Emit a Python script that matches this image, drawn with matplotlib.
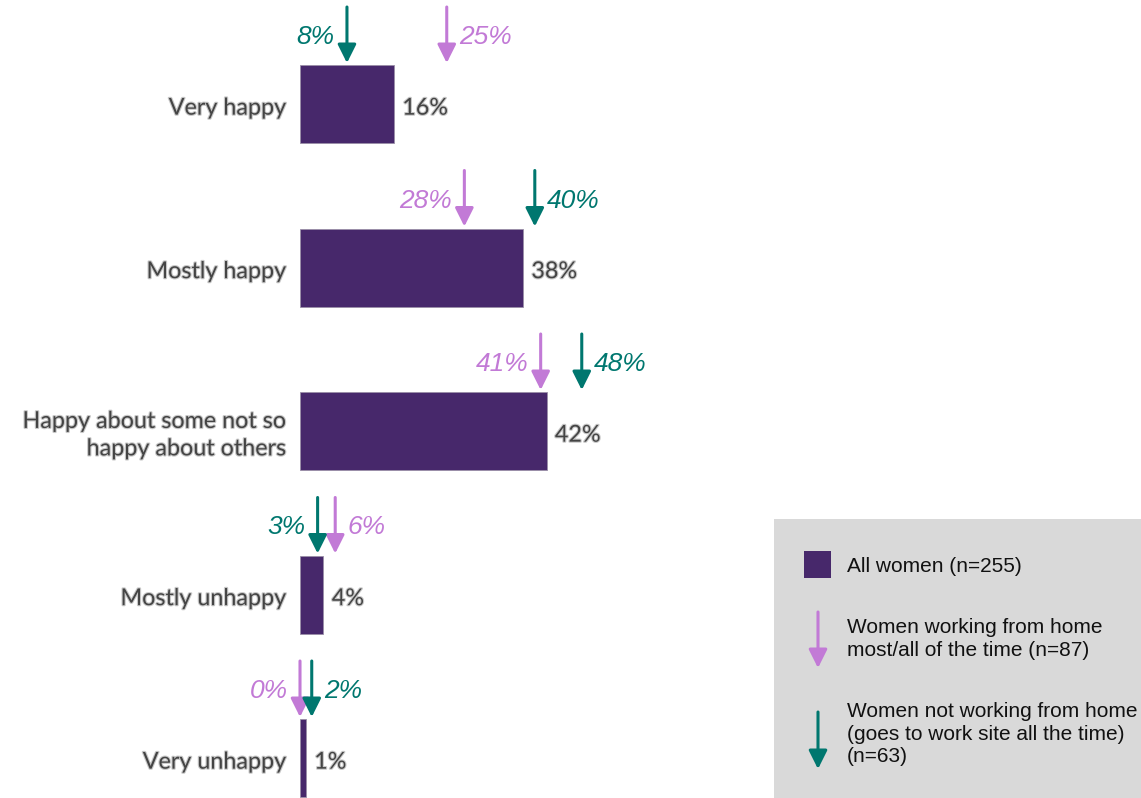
import matplotlib
matplotlib.use("Agg")
import matplotlib.pyplot as plt
from matplotlib.patches import Rectangle
import matplotlib.patheffects as pe

# ---------------- data ----------------
categories = ["Very happy", "Mostly happy", "Happy about some not so\nhappy about others",
              "Mostly unhappy", "Very unhappy"]
all_women = [16, 38, 42, 4, 1]
wfh_women = [25, 28, 41, 6, 0]        # pink arrows
onsite_women = [8, 40, 48, 3, 2]      # green arrows
legend_labels = ["All women (n=255)",
                 "Women working from home\nmost/all of the time (n=87)",
                 "Women not working from home\n(goes to work site all the time)\n(n=63)"]

PURPLE = "#47286b"
PINK = "#c27ad6"
GREEN = "#00776f"
GRAY_TXT = "#444444"

W, H = 1141, 798
fig = plt.figure(figsize=(W / 100, H / 100), dpi=100)
fig.patch.set_facecolor("white")

# main axes spanning figure; x in %, y in category index
ax = fig.add_axes([0, 0, 1, 1])
ax.axis("off")
pxper = 5.87
x0 = 300
ax.set_xlim(-x0 / pxper, (W - x0) / pxper)
row_px = 163.5
c0 = 104
ax.set_ylim((H - c0) / row_px, -c0 / row_px)

ys = list(range(len(categories)))
bar_h = 78 / row_px
ax.barh(ys, all_women, height=bar_h, color=PURPLE, edgecolor="#9a8fa8", linewidth=0.6)

shadow = [pe.withStroke(linewidth=1.6, foreground="#c8c8c8")]
cat_font = dict(family="Lato", fontsize=16.8, color=GRAY_TXT, path_effects=shadow)
for y, cat, v in zip(ys, categories, all_women):
    ax.annotate(cat, xy=(0, y), xytext=(-10, -3), textcoords="offset points",
                ha="right", va="center", linespacing=1.38, **cat_font)
    ax.annotate(f"{v}%", xy=(v, y), xytext=(6, -3), textcoords="offset points",
                ha="left", va="center", **cat_font)

tip_off = 41 / row_px
tail_off = 97 / row_px
lab_off = 67 / row_px


def draw_arrow(axis, x, ytip, ytail, color):
    axis.annotate("", xy=(x, ytip), xytext=(x, ytail),
                  arrowprops=dict(arrowstyle="-|>,head_length=0.8,head_width=0.4",
                                  mutation_scale=14, lw=2.2, color=color,
                                  shrinkA=0, shrinkB=0))


lab_font = dict(family="Liberation Sans", fontsize=19, style="italic")
for y, p, g in zip(ys, wfh_women, onsite_women):
    for v, col, other in ((p, PINK, g), (g, GREEN, p)):
        draw_arrow(ax, v, y - tip_off, y - tail_off, col)
        left = v < other or (v == other and col == PINK)
        ax.annotate(f"{v}%", xy=(v, y - lab_off),
                    xytext=(-9 if left else 9, 0), textcoords="offset points",
                    ha="right" if left else "left", va="center",
                    color=col, **lab_font)

# ---------------- legend ----------------
lax = fig.add_axes([0, 0, 1, 1], zorder=3)
lax.axis("off")
lax.set_xlim(0, W)
lax.set_ylim(H, 0)
lax.add_patch(Rectangle((774, 519), W - 774, H - 519, facecolor="#d9d9d9", edgecolor="none"))
lax.add_patch(Rectangle((804, 551), 27, 27, facecolor=PURPLE, edgecolor="none"))
draw_arrow(lax, 818, 668, 612, PINK)
draw_arrow(lax, 818, 769, 712, GREEN)
leg_font = dict(family="Liberation Sans", fontsize=15, color="#111111", linespacing=1.22)
for lbl, yc in zip(legend_labels, [567, 639, 734]):
    lax.text(847, yc, lbl, ha="left", va="center", **leg_font)

fig.savefig("out.png", dpi=100)
